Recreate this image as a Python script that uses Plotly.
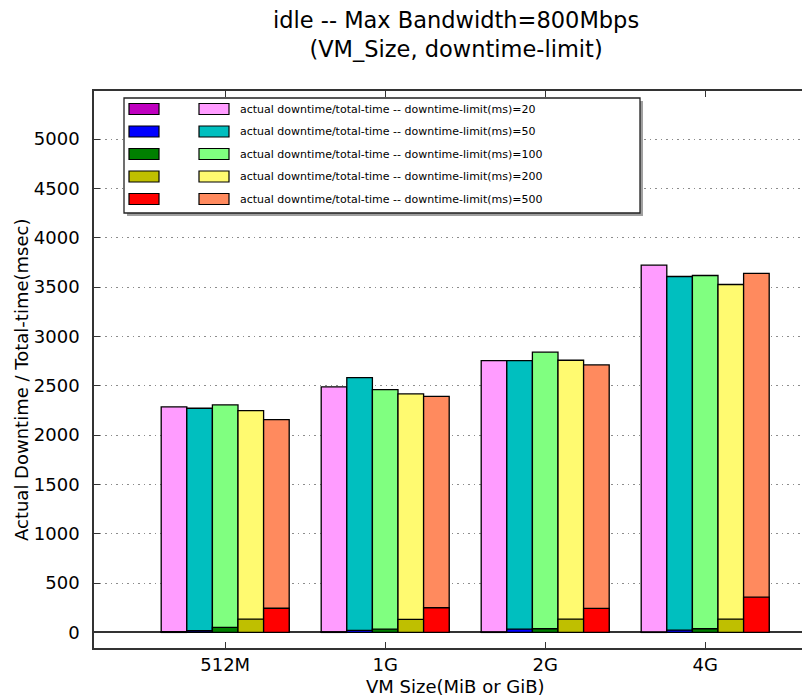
import plotly.graph_objects as go

# VM sizes on the x axis and the downtime limits that make up each group
categories = ["512M", "1G", "2G", "4G"]
limits_ms = [20, 50, 100, 200, 500]

# total migration time (ms) per downtime limit, one value per VM size
total_20 = [2285, 2488, 2755, 3722]
total_50 = [2272, 2583, 2755, 3607]
total_100 = [2305, 2461, 2840, 3617]
total_200 = [2248, 2417, 2758, 3526]
total_500 = [2157, 2393, 2711, 3638]

# actual downtime (ms) per downtime limit, one value per VM size
down_20 = [8, 7, 6, 5]
down_50 = [17, 20, 34, 24]
down_100 = [51, 34, 37, 37]
down_200 = [135, 132, 135, 135]
down_500 = [245, 250, 243, 358]

y_ticks = list(range(0, 5001, 500))

totals = [total_20, total_50, total_100, total_200, total_500]
downs = [down_20, down_50, down_100, down_200, down_500]

dark_colors = ["#bf00bf", "#0000ff", "#008000", "#bfbf00", "#ff0000"]
light_colors = ["#ff9cff", "#00bfbf", "#80ff80", "#fffa70", "#ff8a5e"]

FONT = "DejaVu Sans"
W, H = 802, 696
L, R, T, B = 94, 802, 91, 648   # plot-area edges in pixels
bar_w = 0.16

def px(xp):
    return (xp - L) / (R - L)

def py(yp):
    return (B - yp) / (B - T)

fig = go.Figure()
group_x = list(range(len(categories)))
for j, lim in enumerate(limits_ms):
    xs = [g + (j - 2) * bar_w for g in group_x]
    fig.add_trace(go.Bar(
        x=xs, y=totals[j], width=bar_w,
        marker=dict(color=light_colors[j], line=dict(color="black", width=1.3)),
        name=f"actual downtime/total-time -- downtime-limit(ms)={lim}",
        showlegend=False,
    ))
for j, lim in enumerate(limits_ms):
    xs = [g + (j - 2) * bar_w for g in group_x]
    fig.add_trace(go.Bar(
        x=xs, y=downs[j], width=bar_w,
        marker=dict(color=dark_colors[j], line=dict(color="black", width=1.3)),
        showlegend=False,
    ))

x_left = -0.82
x_right = x_left + (R - L) / 160.0

fig.update_layout(
    width=W, height=H,
    margin=dict(l=L, r=W - R, t=T, b=H - B, pad=0),
    paper_bgcolor="white", plot_bgcolor="white",
    barmode="overlay",
    font=dict(family=FONT, size=18, color="black"),
    xaxis=dict(
        range=[x_left, x_right], tickmode="array",
        tickvals=group_x, ticktext=categories,
        showgrid=False, zeroline=False,
        showline=True, linecolor="#333333", linewidth=1.5, mirror="ticks",
        ticks="inside", ticklen=6, tickcolor="#333333",
        ticklabelstandoff=0,
        tickfont=dict(family=FONT, size=18),
    ),
    yaxis=dict(
        range=[-158, 5487], tickmode="array", tickvals=y_ticks,
        ticktext=[str(v) for v in y_ticks],
        showgrid=True, gridcolor="#8c8c8c", gridwidth=1, griddash="1.5px,4px",
        zeroline=True, zerolinecolor="#333333", zerolinewidth=1.5,
        showline=True, linecolor="#333333", linewidth=1.5, mirror=False,
        ticks="inside", ticklen=6, tickcolor="#333333",
        ticklabelstandoff=9,
        tickfont=dict(family=FONT, size=18),
    ),
)

# titles and axis labels
annotations = [
    dict(text="idle -- Max Bandwidth=800Mbps<br>(VM_Size, downtime-limit)",
         x=px(456), y=py(34), font_size=22.5),
    dict(text="VM Size(MiB or GiB)", x=px(455), y=py(686), font_size=18),
    dict(text="Actual Downtime / Total-time(msec)", x=px(22), y=py(380),
         textangle=-90, font_size=18),
]
for a in annotations:
    fs = a.pop("font_size")
    fig.add_annotation(xref="paper", yref="paper", showarrow=False,
                       xanchor="center", yanchor="middle", align="center",
                       font=dict(family=FONT, size=fs, color="black"), **a)

# legend box with shadow, drawn by hand to get the two swatch columns
box = (124, 98, 640, 213)
fig.add_shape(type="rect", xref="paper", yref="paper",
              x0=px(box[0] + 3), x1=px(box[2] + 3), y0=py(box[1] + 3), y1=py(box[3] + 3),
              fillcolor="#a0a0a0", line=dict(width=0), layer="above")
fig.add_shape(type="rect", xref="paper", yref="paper",
              x0=px(box[0]), x1=px(box[2]), y0=py(box[1]), y1=py(box[3]),
              fillcolor="white", line=dict(color="#222222", width=1.3), layer="above")
row_y = [109, 131.5, 154, 176.5, 199]
for j, lim in enumerate(limits_ms):
    yc = row_y[j]
    for x0, col in ((129, dark_colors[j]), (199, light_colors[j])):
        fig.add_shape(type="rect", xref="paper", yref="paper",
                      x0=px(x0), x1=px(x0 + 30), y0=py(yc - 5.5), y1=py(yc + 5.5),
                      fillcolor=col, line=dict(color="black", width=1.2), layer="above")
    fig.add_annotation(xref="paper", yref="paper", showarrow=False,
                       x=px(238), y=py(yc), xanchor="left", yanchor="middle",
                       text=f"actual downtime/total-time -- downtime-limit(ms)={lim}",
                       font=dict(family=FONT, size=11, color="black"))

fig.write_html("out.html")
